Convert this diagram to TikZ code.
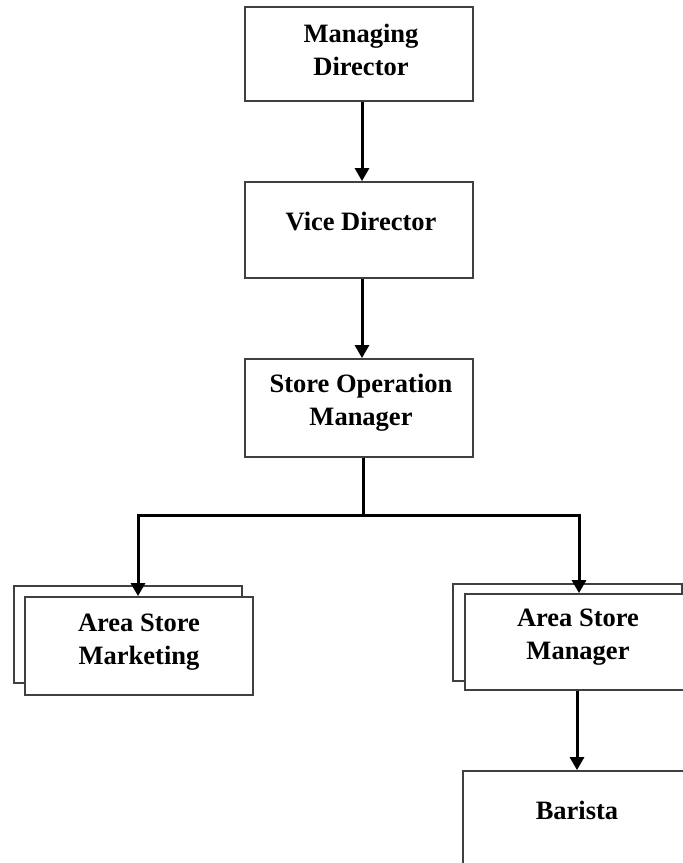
\documentclass[tikz,border=0pt]{standalone}
\usepackage{fontspec}
\setmainfont{Liberation Serif}
\usetikzlibrary{arrows.meta}
\begin{document}
\begin{tikzpicture}[x=1pt,y=-1pt,
  box/.style={draw=black!75, line width=1.8pt, fill=white, inner sep=0pt, minimum width=228pt},
  lbl/.style={font=\fontsize{26.5}{33}\selectfont\bfseries, align=center, inner sep=0pt},
  link/.style={draw=black, line width=3pt},
  conn/.style={link, -{Triangle[width=14pt,length=13pt]}}]
\useasboundingbox (0,0) rectangle (683,863);
\clip (0,0) rectangle (683,863);
% boxes
\node[box, minimum height=94pt] (md) at (359,54) {};
\node[box, minimum height=96pt] (vd) at (359,230) {};
\node[box, minimum height=98pt] (som) at (359,408) {};
\node[box, minimum height=97pt] (mktback) at (128,634.5) {};
\node[box, minimum height=98pt] (mkt) at (139,646) {};
\node[box, minimum height=97pt, minimum width=229pt] (mgrback) at (567.5,632.5) {};
\node[box, minimum height=96pt, minimum width=230pt] (mgr) at (580,642) {};
\node[box, minimum height=130pt, minimum width=230pt] (bar) at (578,836) {};
% labels
\node[lbl] (mdt) at (361,50) {Managing\\Director};
\node[lbl] (vdt) at (361,222) {Vice Director};
\node[lbl] (somt) at (361,403) {Store Operation\\Manager};
\node[lbl] (mktt) at (139,642) {Area Store\\Marketing};
\node[lbl] (mgrt) at (578,637) {Area Store\\Manager};
\node[lbl] (bart) at (577,810) {Barista};
% connectors
\coordinate (j) at (363,515);
\draw[conn] ([xshift=3pt]md.south) -- ([xshift=3pt]vd.north);
\draw[conn] ([xshift=3pt]vd.south) -- ([xshift=3pt]som.north);
\draw[link] ([xshift=4pt]som.south) -- (j);
\draw[conn] (j) -| ([xshift=-1pt]mkt.north);
\draw[conn] (j) -| ([xshift=-1pt]mgr.north);
\draw[conn] ([xshift=-3pt]mgr.south) -- ([xshift=-1pt]bar.north);
\end{tikzpicture}
\end{document}
